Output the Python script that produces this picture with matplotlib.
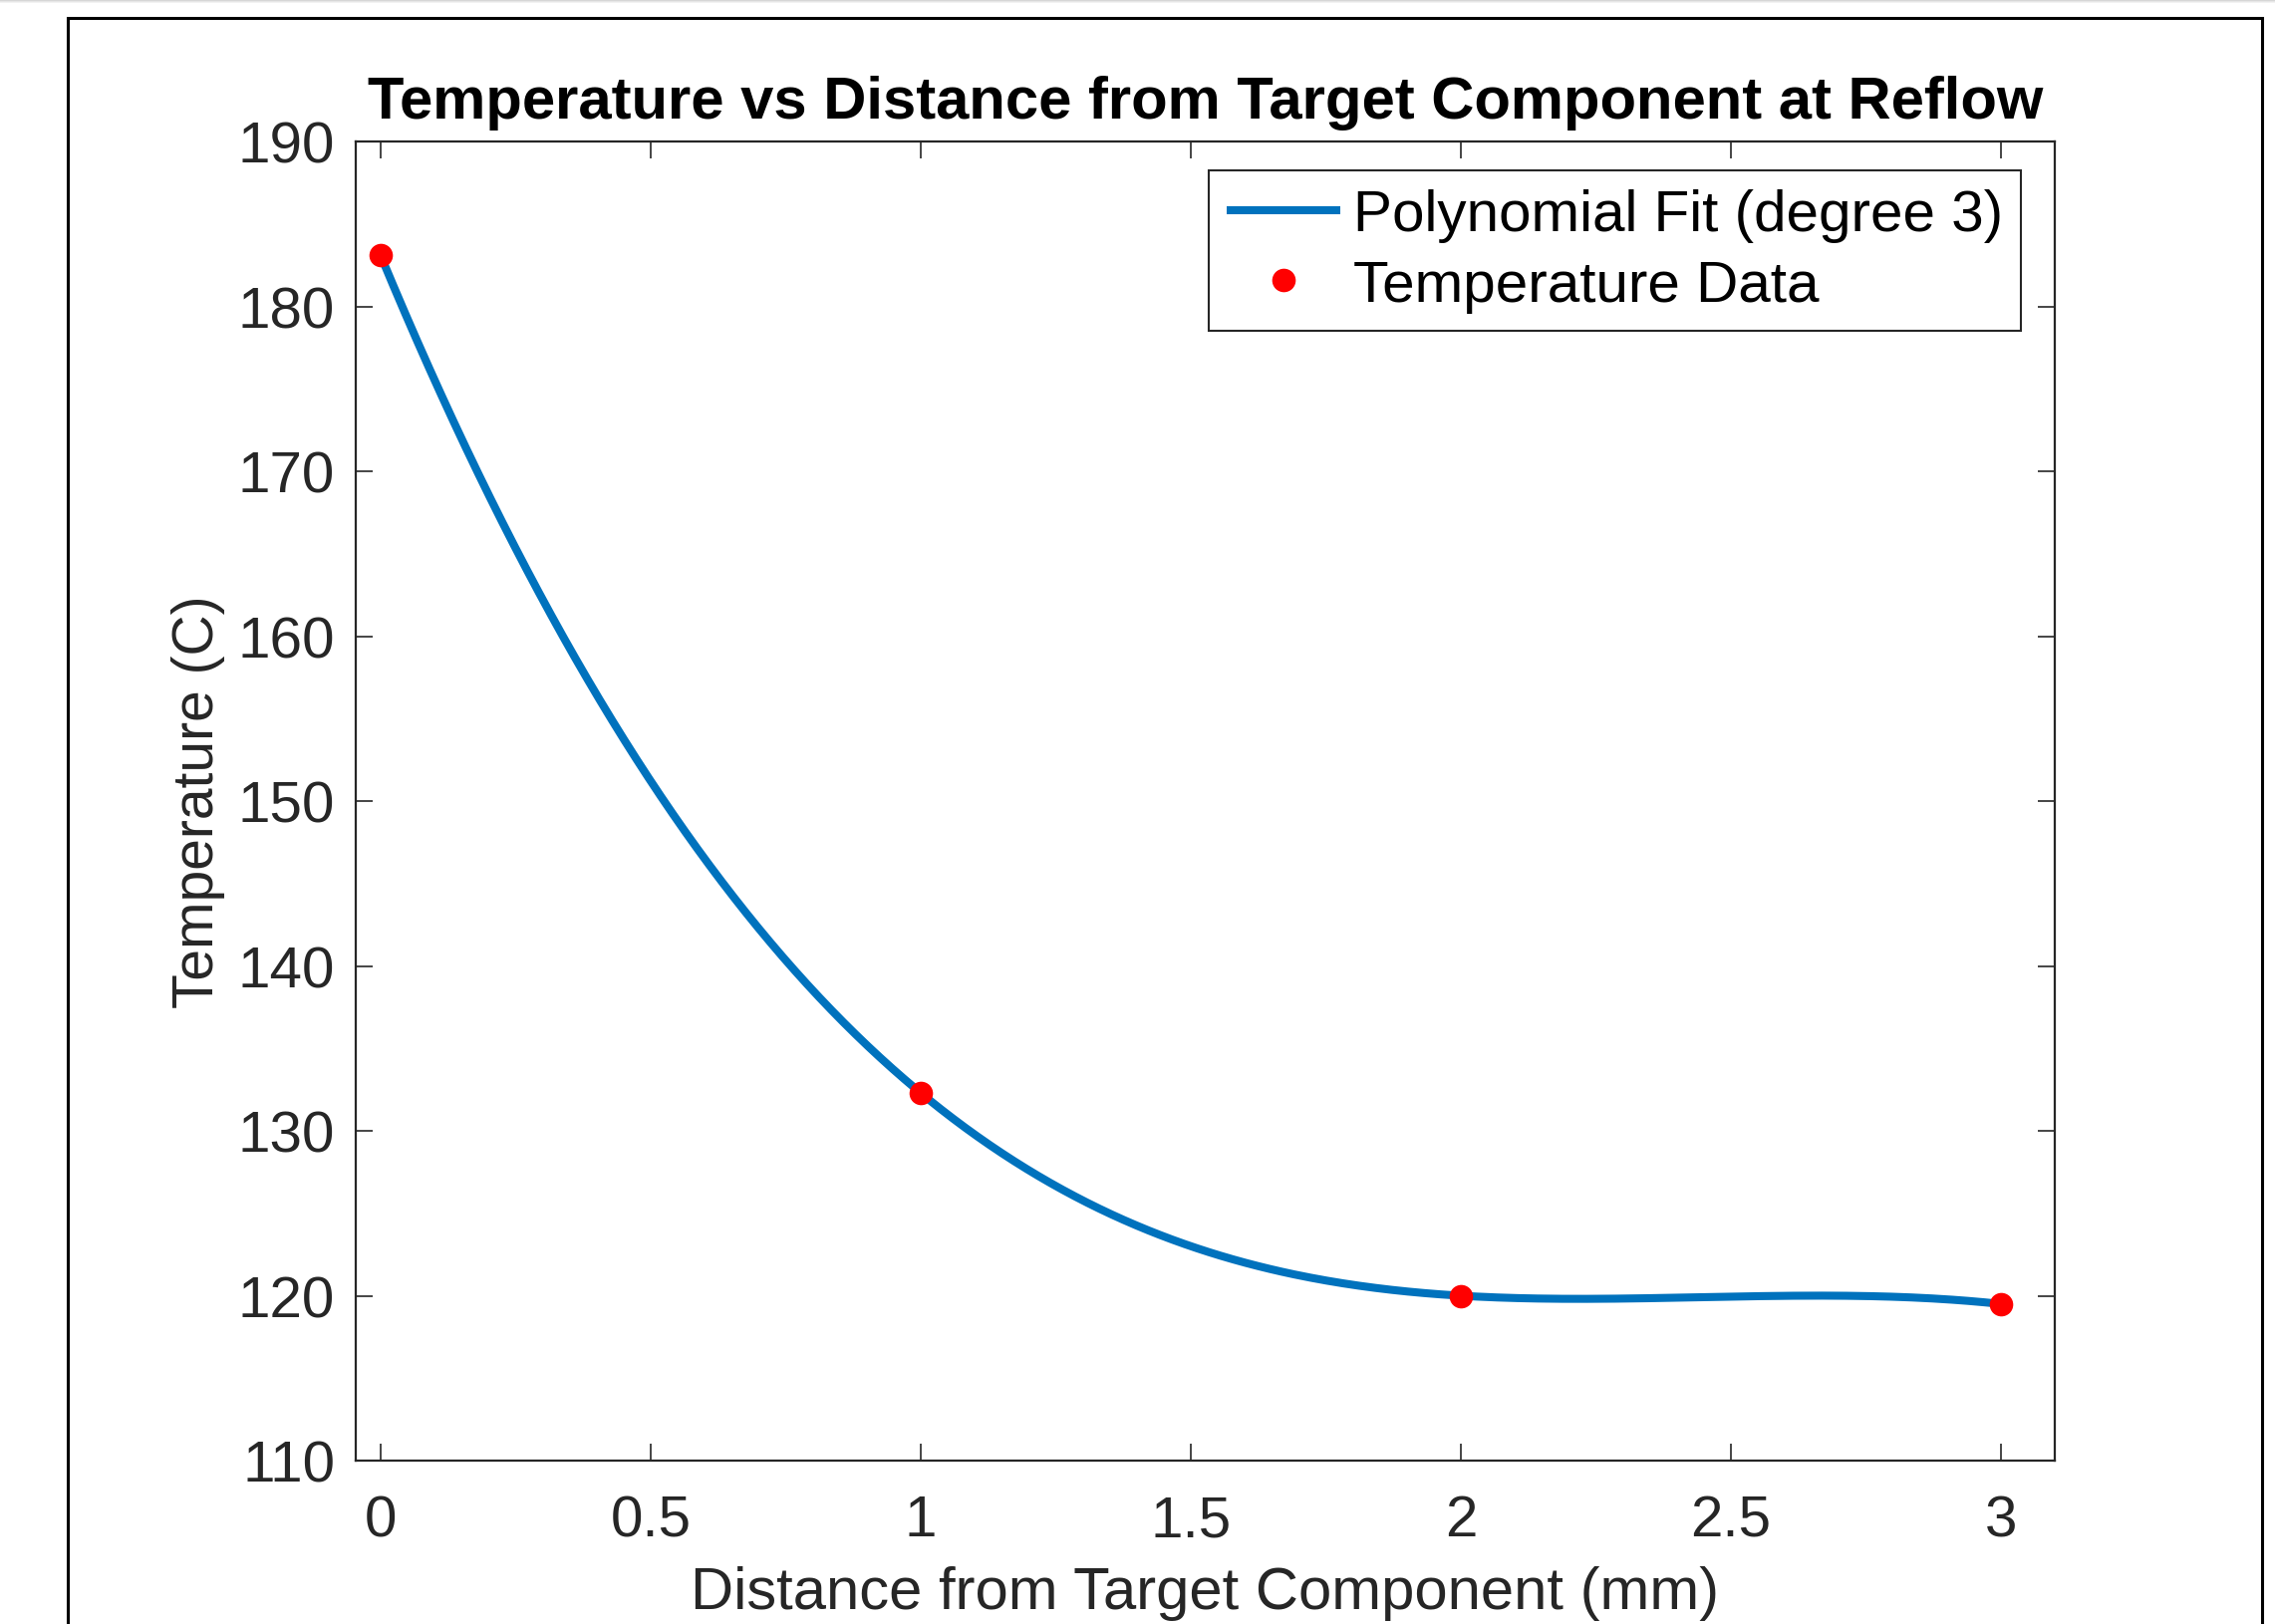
import numpy as np
import matplotlib
matplotlib.use("Agg")
import matplotlib.pyplot as plt
from matplotlib.patches import Rectangle

plt.rcParams['font.family'] = ['Liberation Sans', 'DejaVu Sans']

# Data
distance_mm = [0, 1, 2, 3]
temperature_c = [183.1, 132.3, 120.0, 119.5]
fit_degree = 3
x_ticks = [0, 0.5, 1, 1.5, 2, 2.5, 3]
x_tick_labels = ['0', '0.5', '1', '1.5', '2', '2.5', '3']
y_ticks = [110, 120, 130, 140, 150, 160, 170, 180, 190]
title_text = "Temperature vs Distance from Target Component at Reflow"
x_label = "Distance from Target Component (mm)"
y_label = "Temperature (C)"
fit_label = "Polynomial Fit (degree 3)"
data_label = "Temperature Data"

W, H, DPI = 2283, 1631, 100
fig = plt.figure(figsize=(W / DPI, H / DPI), dpi=DPI)
fig.patch.set_facecolor('white')

# outer window frame and top strip
fig.patches.append(Rectangle((68 / W, -0.05), (2270 - 68) / W, 1 - 19 / H + 0.05,
                             transform=fig.transFigure, fill=False,
                             edgecolor='black', linewidth=2.2, zorder=0))
for i, g in enumerate([0.78, 0.84, 0.9, 0.95]):
    fig.patches.append(Rectangle((0, 1 - (i + 1) / H), 1, 1 / H, transform=fig.transFigure,
                                 facecolor=(g, g, g), edgecolor='none', zorder=0))

ax = fig.add_axes([357 / W, 1 - 1467 / H, (2062 - 357) / W, (1467 - 143) / H])

coeffs = np.polyfit(distance_mm, temperature_c, fit_degree)
xs = np.linspace(min(distance_mm), max(distance_mm), 400)
ax.plot(xs, np.polyval(coeffs, xs), color='#0072BD', linewidth=5.8,
        label=fit_label, solid_capstyle='butt', zorder=2)
ax.plot(distance_mm, temperature_c, 'o', color='#FF0000', markersize=17,
        markeredgewidth=0, label=data_label, zorder=3)

ax.set_xlim(-0.046, 3.1)
ax.set_ylim(110, 190)
ax.set_xticks(x_ticks)
ax.set_xticklabels(x_tick_labels)
ax.set_yticks(y_ticks)

dark = (0.15, 0.15, 0.15)
for s in ax.spines.values():
    s.set_color(dark)
    s.set_linewidth(1.6)
ax.tick_params(direction='in', length=12, width=1.2, color=dark, labelcolor=dark,
               labelsize=42, top=True, right=True)
ax.tick_params(axis='x', pad=24)
ax.tick_params(axis='y', pad=15)

ax.set_title(title_text, fontsize=43, fontweight='bold', pad=17, color='black')
ax.set_xlabel(x_label, fontsize=43, color=dark, labelpad=13)
ax.set_ylabel(y_label, fontsize=41, color=dark, labelpad=9)

leg = ax.legend(loc='upper right', bbox_to_anchor=(0.980, 0.978), borderaxespad=0,
                fontsize=42, frameon=True, fancybox=False, framealpha=1,
                edgecolor=dark, handlelength=1.95, handletextpad=0.22,
                borderpad=0.31, labelspacing=0.28)
leg.get_frame().set_linewidth(1.5)

fig.savefig("out.png", dpi=DPI)
